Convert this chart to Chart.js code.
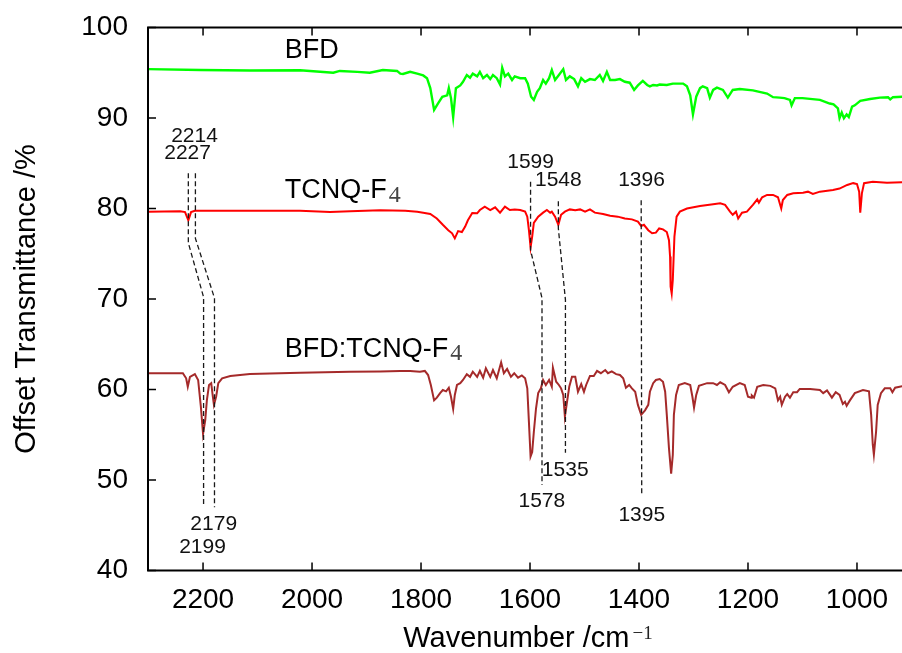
<!DOCTYPE html>
<html>
<head>
<meta charset="utf-8">
<script src="https://cdn.jsdelivr.net/npm/chart.js@4"></script>
<style>
  html, body { margin: 0; padding: 0; background: #fff; overflow: hidden; }
  canvas { display: block; }
</style>
</head>
<body>
<canvas id="c" width="902" height="653"></canvas>
<script>
// Axis ticks
const xTicks = [2200, 2000, 1800, 1600, 1400, 1200, 1000];
const yTicks = [40, 50, 60, 70, 80, 90, 100];

// BFD spectrum (wavenumber / cm^-1, offset transmittance / %)
const bfdWn = [2301, 2205, 2114, 2022, 1961, 1949, 1917, 1894, 1870, 1844, 1838, 1833, 1820, 1807, 1796, 1789, 1783,
  1776, 1769, 1761, 1752, 1749, 1745, 1741, 1736, 1728, 1723, 1716, 1710, 1705, 1697, 1692, 1686, 1679, 1673, 1668,
  1661, 1655, 1651, 1646, 1640, 1633, 1628, 1618, 1609, 1604, 1598, 1593, 1587, 1582, 1576, 1571, 1565, 1560, 1554,
  1547, 1539, 1534, 1527, 1519, 1512, 1506, 1499, 1490, 1481, 1472, 1466, 1459, 1453, 1444, 1435, 1426, 1417, 1409,
  1402, 1393, 1385, 1380, 1374, 1367, 1362, 1349, 1338, 1319, 1312, 1306, 1301, 1295, 1288, 1283, 1275, 1270, 1264,
  1257, 1246, 1237, 1228, 1215, 1191, 1165, 1154, 1142, 1133, 1123, 1120, 1114, 1100, 1068, 1050, 1043, 1035, 1032,
  1028, 1024, 1019, 1015, 1009, 1004, 994, 976, 958, 943, 939, 934, 915];
const bfdT = [95.4, 95.3, 95.25, 95.27, 95.0, 95.2, 95.1, 95.0, 95.3, 95.2, 94.9, 94.86, 95.1, 94.9, 94.7, 94.4, 93.3,
  90.9, 91.6, 92.35, 92.5, 93.3, 92.2, 90.1, 93.3, 93.6, 94.0, 94.75, 94.45, 94.9, 94.6, 95.1, 94.4, 94.75, 94.3, 94.75,
  94.4, 93.7, 95.55, 94.6, 94.9, 94.2, 94.6, 94.4, 94.4, 93.8, 92.35, 92.0, 92.9, 93.3, 94.2, 93.8, 94.4, 95.3, 94.2,
  94.75, 95.4, 94.2, 94.6, 94.3, 93.5, 94.4, 94.0, 94.3, 94.2, 94.75, 94.1, 95.1, 94.2, 94.2, 94.3, 94.0, 93.9, 93.1,
  93.6, 94.1, 93.65, 93.5, 93.65, 93.6, 93.7, 93.65, 93.8, 93.8, 93.5, 92.5, 90.4, 92.35, 93.3, 93.5, 93.3, 92.25, 93.1,
  93.35, 93.1, 92.25, 93.1, 93.2, 93.05, 92.7, 92.3, 92.25, 92.2, 92.0, 91.4, 92.2, 92.2, 92.0, 91.6, 91.5, 91.07, 90.0,
  90.6, 89.97, 90.4, 90.1, 91.25, 91.4, 91.9, 92.1, 92.25, 92.3, 92.06, 92.3, 92.35];

// TCNQ-F4 spectrum
const tcnqWn = [2301, 2242, 2233, 2227, 2222, 2215, 2114, 2022, 1967, 1930, 1875, 1829, 1807, 1796, 1783, 1771, 1760,
  1750, 1743, 1738, 1732, 1725, 1719, 1714, 1706, 1697, 1692, 1683, 1673, 1664, 1655, 1646, 1637, 1628, 1618, 1609,
  1605, 1602, 1599, 1596, 1593, 1585, 1576, 1569, 1563, 1560, 1554, 1548, 1543, 1536, 1527, 1517, 1508, 1499, 1490,
  1481, 1466, 1453, 1439, 1426, 1413, 1402, 1396, 1391, 1383, 1376, 1369, 1363, 1356, 1349, 1345, 1343, 1342, 1340,
  1338, 1335, 1331, 1325, 1312, 1288, 1264, 1251, 1242, 1233, 1228, 1222, 1218, 1211, 1202, 1191, 1183, 1180, 1174,
  1165, 1154, 1145, 1139, 1136, 1128, 1117, 1099, 1090, 1081, 1068, 1044, 1032, 1018, 1007, 1000, 996, 994, 991, 987,
  971, 945, 915];
const tcnqT = [79.65, 79.7, 79.6, 78.7, 79.6, 79.75, 79.75, 79.76, 79.6, 79.7, 79.8, 79.76, 79.65, 79.54, 79.4, 78.9,
  78.2, 77.6, 77.26, 76.7, 77.5, 77.4, 78.0, 78.7, 79.5, 79.47, 79.83, 80.2, 79.83, 80.13, 79.54, 80.2, 79.83, 79.9,
  79.83, 79.65, 79.1, 77.6, 75.7, 76.9, 78.4, 79.1, 79.54, 79.83, 79.54, 79.65, 79.1, 78.2, 79.3, 79.65, 79.9, 79.8,
  79.9, 79.65, 79.9, 79.54, 79.4, 79.2, 79.1, 78.9, 78.8, 78.55, 78.07, 78.2, 77.6, 77.26, 77.33, 77.8, 77.7, 77.4,
  76.5, 74.7, 71.36, 70.6, 72.1, 76.9, 79.1, 79.65, 80.0, 80.27, 80.46, 80.57, 80.4, 79.65, 79.3, 79.65, 78.9, 79.54,
  79.65, 80.4, 81.0, 80.65, 81.24, 81.5, 81.5, 81.24, 80.0, 80.94, 81.5, 81.68, 81.75, 81.86, 81.6, 81.86, 82.04, 82.2,
  82.6, 82.8, 82.7, 81.86, 79.54, 81.68, 82.8, 82.96, 82.85, 82.9];

// BFD:TCNQ-F4 spectrum
const mixWn = [2301, 2237, 2231, 2228, 2224, 2215, 2209, 2204, 2200, 2196, 2193, 2189, 2185, 2182, 2180, 2176, 2172,
  2165, 2150, 2114, 2022, 1930, 1875, 1838, 1820, 1802, 1793, 1787, 1782, 1776, 1771, 1765, 1760, 1754, 1749, 1745,
  1741, 1738, 1734, 1728, 1723, 1716, 1710, 1705, 1697, 1692, 1686, 1681, 1673, 1668, 1661, 1653, 1648, 1642, 1635,
  1629, 1622, 1615, 1609, 1605, 1602, 1599, 1596, 1593, 1589, 1585, 1580, 1576, 1571, 1565, 1560, 1558, 1552, 1547,
  1543, 1539, 1536, 1532, 1528, 1523, 1517, 1512, 1506, 1501, 1497, 1490, 1483, 1477, 1470, 1462, 1457, 1450, 1442,
  1435, 1429, 1424, 1418, 1413, 1407, 1402, 1396, 1389, 1383, 1380, 1374, 1369, 1362, 1356, 1352, 1349, 1345, 1341,
  1338, 1336, 1332, 1327, 1316, 1306, 1302, 1299, 1295, 1290, 1275, 1264, 1257, 1251, 1242, 1235, 1228, 1215, 1206,
  1200, 1194, 1193, 1189, 1183, 1172, 1159, 1150, 1145, 1141, 1138, 1132, 1128, 1123, 1117, 1110, 1105, 1086, 1068,
  1062, 1055, 1046, 1039, 1032, 1026, 1022, 1019, 1013, 1004, 989, 978, 974, 971, 969, 965, 962, 956, 949, 939, 935,
  930, 915];
const mixT = [61.8, 61.8, 61.24, 60.3, 61.4, 61.7, 61.05, 58.1, 55.1, 56.6, 58.8, 60.5, 60.7, 59.2, 58.3, 59.2, 60.7,
  61.24, 61.5, 61.7, 61.85, 61.97, 62.0, 62.05, 62.05, 61.97, 62.05, 61.6, 60.5, 58.8, 59.1, 59.6, 59.94, 59.8, 60.2,
  59.2, 57.85, 59.4, 60.5, 60.7, 61.05, 61.7, 61.4, 61.97, 61.4, 62.05, 61.3, 62.35, 61.4, 62.15, 61.24, 63.0, 61.8,
  62.27, 61.4, 61.8, 61.3, 61.55, 61.24, 60.13, 56.4, 52.6, 53.1, 55.3, 57.9, 59.6, 60.13, 61.05, 60.5, 61.05, 60.3,
  62.4, 60.86, 60.5, 60.13, 59.4, 57.0, 58.65, 60.3, 61.4, 61.4, 59.75, 60.6, 59.75, 60.5, 61.5, 61.5, 62.05, 61.8,
  62.15, 61.8, 62.0, 61.7, 61.6, 61.24, 60.2, 60.5, 60.13, 59.75, 58.3, 57.2, 57.7, 58.3, 59.75, 60.7, 61.05, 61.16,
  60.86, 59.75, 57.2, 53.5, 50.7, 52.76, 57.2, 59.4, 60.5, 60.7, 60.5, 59.2, 58.0, 59.4, 60.4, 60.7, 60.7, 60.5, 60.8,
  60.5, 59.7, 60.3, 60.7, 60.5, 59.2, 59.1, 59.35, 59.1, 60.3, 60.5, 60.4, 60.13, 58.8, 59.2, 58.3, 59.2, 59.5, 59.1,
  59.7, 59.7, 60.06, 60.06, 59.95, 59.6, 59.9, 59.1, 59.7, 59.4, 58.4, 58.65, 58.2, 58.8, 59.6, 59.95, 59.8, 57.2,
  53.9, 52.8, 55.3, 58.3, 59.6, 60.13, 60.13, 59.7, 60.2, 60.4];

// Curve labels: text, subscript, anchor (wavenumber, transmittance of the text's baseline)
const curveLabels = [
  { text: 'BFD', sub: '', wn: 2050, t: 96.6 },
  { text: 'TCNQ-F', sub: '4', wn: 2050, t: 81.13 },
  { text: 'BFD:TCNQ-F', sub: '4', wn: 2050, t: 63.6 }
];

// Peak guide lines (dashed), joining bands in the pure compound to the shifted bands of the complex
const guideWn = [[2227, 2227, 2199, 2199], [2214, 2214, 2179, 2179], [1599, 1599, 1578, 1578],
  [1548, 1548, 1535, 1535], [1396, 1395]];
const guideT = [[83.9, 76.2, 70.2, 47.05], [83.9, 76.7, 70.1, 47.0], [82.96, 75.4, 70.1, 49.45],
  [80.8, 77.8, 69.9, 53.0], [80.9, 48.2]];

// Peak position labels (text centre at wavenumber, transmittance)
const peakText = ['2227', '2214', '1599', '1548', '1396', '2179', '2199', '1535', '1578', '1395'];
const peakWn = [2228.4, 2215.6, 1599, 1548, 1395.4, 2180.4, 2201, 1535.4, 1578.3, 1394.9];
const peakT = [86.3, 88.18, 85.27, 83.28, 83.28, 45.3, 42.78, 51.27, 47.8, 46.3];

const SANS = "'Liberation Sans', Arial, Helvetica, sans-serif";
const SERIF = "'Liberation Serif', 'Times New Roman', serif";

function toPoints(wn, t) { return wn.map((w, i) => ({ x: w, y: t[i] })); }

const framePlugin = {
  id: 'frame',
  afterDatasetsDraw(chart) {
    const { ctx, chartArea: a, scales: { x, y } } = chart;
    ctx.save();

    // dashed peak guides
    ctx.strokeStyle = '#1a1a1a';
    ctx.lineWidth = 1.3;
    ctx.setLineDash([5, 3]);
    guideWn.forEach((ws, i) => {
      ctx.beginPath();
      ws.forEach((w, j) => {
        const px = x.getPixelForValue(w), py = y.getPixelForValue(guideT[i][j]);
        if (j === 0) ctx.moveTo(px, py); else ctx.lineTo(px, py);
      });
      ctx.stroke();
    });
    ctx.setLineDash([]);

    // peak labels
    ctx.fillStyle = '#111';
    ctx.font = '21px ' + SANS;
    ctx.textAlign = 'center';
    ctx.textBaseline = 'alphabetic';
    peakText.forEach((s, i) => {
      ctx.fillText(s, x.getPixelForValue(peakWn[i]), y.getPixelForValue(peakT[i]) + 7.5);
    });

    // curve labels
    ctx.textAlign = 'left';
    curveLabels.forEach(l => {
      const px = x.getPixelForValue(l.wn), py = y.getPixelForValue(l.t);
      ctx.font = '27px ' + SANS;
      ctx.fillStyle = '#000';
      ctx.fillText(l.text, px, py);
      if (l.sub) {
        const w = ctx.measureText(l.text).width;
        ctx.font = '24px ' + SERIF;
        ctx.fillStyle = '#444';
        ctx.fillText(l.sub, px + w + 2, py + 3.5);
      }
    });

    // frame
    ctx.strokeStyle = '#000';
    ctx.lineWidth = 2;
    ctx.beginPath();
    ctx.moveTo(a.right, a.top); ctx.lineTo(a.left, a.top);
    ctx.lineTo(a.left, a.bottom); ctx.lineTo(a.right, a.bottom);
    ctx.stroke();

    // inward tick marks
    ctx.lineWidth = 1.5;
    ctx.beginPath();
    yTicks.forEach(v => {
      const py = y.getPixelForValue(v);
      ctx.moveTo(a.left, py); ctx.lineTo(a.left + 8, py);
    });
    xTicks.forEach(v => {
      const px = x.getPixelForValue(v);
      ctx.moveTo(px, a.bottom); ctx.lineTo(px, a.bottom - 8);
      ctx.moveTo(px, a.top); ctx.lineTo(px, a.top + 8);
    });
    ctx.stroke();

    // axis titles
    ctx.fillStyle = '#000';
    ctx.font = '29px ' + SANS;
    const main = 'Wavenumber /cm';
    const mw = ctx.measureText(main).width;
    ctx.font = '19px ' + SERIF;
    const sup = '\u22121';
    const sw = ctx.measureText(sup).width;
    const total = mw + 3 + sw;
    const startX = 528 - total / 2;
    ctx.font = '29px ' + SANS;
    ctx.textAlign = 'left';
    ctx.fillText(main, startX, 647);
    ctx.font = '19px ' + SERIF;
    ctx.fillStyle = '#222';
    ctx.fillText(sup, startX + mw + 3, 639);

    ctx.save();
    ctx.translate(35, (a.top + a.bottom) / 2);
    ctx.rotate(-Math.PI / 2);
    ctx.textAlign = 'center';
    ctx.fillStyle = '#000';
    ctx.font = '29px ' + SANS;
    ctx.fillText('Offset Transmittance /%', 0, 0);
    ctx.restore();

    ctx.restore();
  }
};

function noScalePadding(s) {
  s.paddingTop = 0; s.paddingBottom = 0; s.paddingLeft = 0; s.paddingRight = 0;
}

new Chart(document.getElementById('c'), {
  type: 'line',
  data: {
    datasets: [
      { label: 'BFD', data: toPoints(bfdWn, bfdT), borderColor: '#00ff00', borderWidth: 2.4 },
      { label: 'TCNQ-F4', data: toPoints(tcnqWn, tcnqT), borderColor: '#ff0000', borderWidth: 2 },
      { label: 'BFD:TCNQ-F4', data: toPoints(mixWn, mixT), borderColor: '#a52a2a', borderWidth: 2 }
    ]
  },
  options: {
    responsive: false,
    animation: false,
    devicePixelRatio: 1,
    parsing: false,
    elements: { point: { radius: 0 }, line: { tension: 0, fill: false } },
    layout: { padding: { top: 27.5, right: 0, left: 0, bottom: 0 } },
    plugins: { legend: { display: false }, tooltip: { enabled: false } },
    scales: {
      x: {
        type: 'linear', reverse: true, min: 917.4, max: 2301,
        grid: { display: false, drawTicks: false },
        border: { display: false },
        afterBuildTicks: s => { s.ticks = xTicks.map(v => ({ value: v })); },
        afterFit: s => { s.height = 82.5; noScalePadding(s); },
        ticks: {
          padding: 13, color: '#000', maxRotation: 0, autoSkip: false,
          font: { family: SANS, size: 28 },
          callback: v => String(v)
        }
      },
      y: {
        type: 'linear', min: 40, max: 100,
        grid: { display: false, drawTicks: false },
        border: { display: false },
        afterBuildTicks: s => { s.ticks = yTicks.map(v => ({ value: v })); },
        afterFit: s => { s.width = 148; noScalePadding(s); },
        ticks: {
          padding: 20, color: '#000',
          font: { family: SANS, size: 28 },
          callback: v => String(v)
        }
      }
    }
  },
  plugins: [framePlugin]
});
</script>
</body>
</html>
